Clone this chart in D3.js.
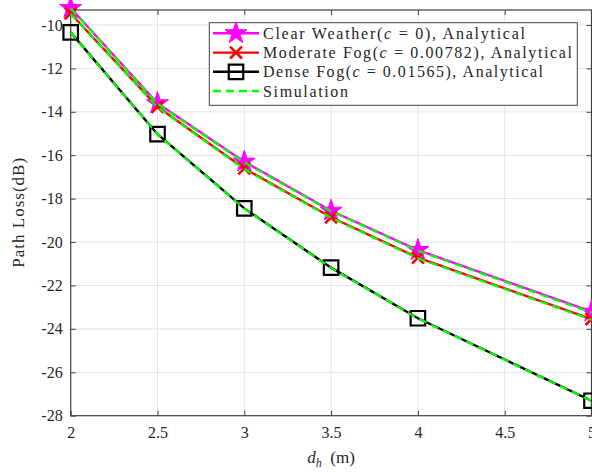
<!DOCTYPE html>
<html>
<head>
<meta charset="utf-8">
<script src="https://cdn.jsdelivr.net/npm/d3@7"></script>
<style>
  body { margin: 0; background: #fff; }
</style>
</head>
<body>
<div id="chart"></div>
<script>
// data
var distance = [2, 2.5, 3, 3.5, 4, 5]
var clearAnalytical = [-9.22, -13.61, -16.30, -18.56, -20.37, -23.21]
var moderateAnalytical = [-9.47, -13.77, -16.61, -18.86, -20.72, -23.55]
var denseAnalytical = [-10.34, -15.03, -18.45, -21.18, -23.51, -27.31]
var clearSim = [-9.24, -13.63, -16.33, -18.58, -20.40, -23.25]
var moderateSim = [-9.49, -13.79, -16.64, -18.88, -20.75, -23.58]
var denseSim = [-10.35, -15.04, -18.46, -21.19, -23.52, -27.32]
var xTicks = [2, 2.5, 3, 3.5, 4, 4.5, 5]
var yTicks = [-28, -26, -24, -22, -20, -18, -16, -14, -12, -10]

var width = 592
var height = 472
var plotLeft = 70.7, plotRight = 591.5, plotTop = 10, plotBottom = 415.7
var serif = "Liberation Serif"

var svg = d3.select("#chart")
  .append("svg")
    .attr("width", width)
    .attr("height", height)
    .attr("font-family", serif)

var x = d3.scaleLinear().domain([2, 5]).range([plotLeft, plotRight])
var y = d3.scaleLinear().domain([-28, -9.31]).range([plotBottom, plotTop])

// grid
svg.append("g").selectAll("line")
  .data(xTicks.slice(1, -1))
  .enter().append("line")
    .attr("x1", d => x(d)).attr("x2", d => x(d))
    .attr("y1", plotTop).attr("y2", plotBottom)
    .attr("stroke", "#e3e3e3").attr("stroke-width", 1)
svg.append("g").selectAll("line")
  .data(yTicks.slice(1))
  .enter().append("line")
    .attr("y1", d => y(d)).attr("y2", d => y(d))
    .attr("x1", plotLeft).attr("x2", plotRight)
    .attr("stroke", "#e3e3e3").attr("stroke-width", 1)

// axes with inward ticks on all four sides
var axisColor = "#404040"
function styleAxis(g) {
  g.attr("font-family", serif).attr("font-size", 16)
  g.select(".domain").remove()
  g.selectAll(".tick line").attr("stroke", axisColor)
  g.selectAll(".tick text").attr("fill", "#262626")
}
svg.append("g")
  .attr("transform", "translate(0," + plotBottom + ")")
  .call(d3.axisBottom(x).tickValues(xTicks).tickSize(-5).tickPadding(11).tickFormat(d3.format("")))
  .call(styleAxis)
svg.append("g")
  .attr("transform", "translate(0," + plotTop + ")")
  .call(d3.axisTop(x).tickValues(xTicks).tickSize(-5).tickFormat(""))
  .call(styleAxis)
svg.append("g")
  .attr("transform", "translate(" + plotLeft + ",0)")
  .call(d3.axisLeft(y).tickValues(yTicks).tickSize(-5).tickPadding(8).tickFormat(d => "-" + Math.abs(d)))
  .call(styleAxis)
svg.append("g")
  .attr("transform", "translate(" + plotRight + ",0)")
  .call(d3.axisRight(y).tickValues(yTicks).tickSize(-5).tickFormat(""))
  .call(styleAxis)

svg.append("rect")
  .attr("x", plotLeft).attr("y", plotTop)
  .attr("width", plotRight - plotLeft).attr("height", plotBottom - plotTop)
  .attr("fill", "none").attr("stroke", axisColor).attr("stroke-width", 1.2)

// markers
var crossSymbol = {
  draw: function(context, size) {
    var r = Math.sqrt(size) / 2
    context.moveTo(-r, -r); context.lineTo(r, r)
    context.moveTo(r, -r); context.lineTo(-r, r)
  }
}
var starPath = d3.symbol(d3.symbolStar, 150)()
var crossPath = d3.symbol(crossSymbol, 140)()
var squarePath = d3.symbol(d3.symbolSquare, 210)()

var series = [
  { values: clearAnalytical, color: "#ff00ff", marker: starPath, fill: "#ff00ff", mw: 1 },
  { values: moderateAnalytical, color: "#ff0000", marker: crossPath, fill: "none", mw: 2.6 },
  { values: denseAnalytical, color: "#000000", marker: squarePath, fill: "none", mw: 2.2 }
]
var sims = [clearSim, moderateSim, denseSim]

var line = d3.line()
  .x((d, i) => x(distance[i]))
  .y(d => y(d))

series.forEach(function(s) {
  svg.append("path")
    .attr("d", line(s.values))
    .attr("fill", "none").attr("stroke", s.color).attr("stroke-width", 2.4)
  svg.append("g").selectAll("path")
    .data(s.values)
    .enter().append("path")
      .attr("transform", (d, i) => "translate(" + x(distance[i]) + "," + y(d) + ")")
      .attr("d", s.marker)
      .attr("fill", s.fill)
      .attr("stroke", s.color)
      .attr("stroke-width", s.mw)
})

sims.forEach(function(v) {
  svg.append("path")
    .attr("d", line(v))
    .attr("fill", "none").attr("stroke", "#00ff00")
    .attr("stroke-width", 2.2).attr("stroke-dasharray", "8,5")
})

// legend
var legend = svg.append("g")
legend.append("rect")
  .attr("x", 209.3).attr("y", 22.7)
  .attr("width", 368).attr("height", 82.6)
  .attr("fill", "#fff").attr("stroke", axisColor).attr("stroke-width", 1)

var legendRows = [
  { pre: "Clear Weather(", val: " = 0), Analytical", color: "#ff00ff", marker: starPath, fill: "#ff00ff", mw: 1, len: 262 },
  { pre: "Moderate Fog(", val: " = 0.00782), Analytical", color: "#ff0000", marker: crossPath, fill: "none", mw: 2.6, len: 309 },
  { pre: "Dense Fog(", val: " = 0.01565), Analytical", color: "#000000", marker: squarePath, fill: "none", mw: 2.2, len: 280 },
  { pre: "Simulation", val: null, color: "#00ff00", marker: null, len: 85 }
]
var rowY = [33.3, 52.6, 71.8, 91]

legendRows.forEach(function(r, i) {
  var g = legend.append("g").attr("transform", "translate(0," + rowY[i] + ")")
  g.append("line")
    .attr("x1", 213).attr("x2", 259)
    .attr("stroke", r.color).attr("stroke-width", 2.4)
    .attr("stroke-dasharray", r.marker ? null : "8,5")
  if (r.marker) {
    g.append("path")
      .attr("transform", "translate(236,0)")
      .attr("d", r.marker)
      .attr("fill", r.fill).attr("stroke", r.color).attr("stroke-width", r.mw)
  }
  var t = g.append("text")
    .attr("x", 263).attr("y", 5.5)
    .attr("font-family", serif)
    .attr("font-size", 16)
    .attr("fill", "#262626")
    .attr("textLength", r.len).attr("lengthAdjust", "spacing")
  t.append("tspan").text(r.pre)
  if (r.val) {
    t.append("tspan").attr("font-style", "italic").text("c")
    t.append("tspan").text(r.val)
  }
})

// axis labels
var xl = svg.append("text")
  .attr("x", (plotLeft + plotRight) / 2).attr("y", 463)
  .attr("text-anchor", "middle")
  .attr("font-family", serif)
  .attr("font-size", 17)
  .attr("fill", "#262626")
xl.append("tspan").attr("font-style", "italic").text("d")
xl.append("tspan").attr("font-style", "italic").attr("font-size", 12).attr("dy", 4).text("h")
xl.append("tspan").attr("dy", -4).text("\u2002(m)")

svg.append("text")
  .attr("transform", "translate(24," + ((plotTop + plotBottom) / 2) + ") rotate(-90)")
  .attr("text-anchor", "middle")
  .attr("font-family", serif)
  .attr("font-size", 17)
  .attr("fill", "#262626")
  .attr("textLength", 110).attr("lengthAdjust", "spacing")
  .text("Path Loss(dB)")
</script>
</body>
</html>
